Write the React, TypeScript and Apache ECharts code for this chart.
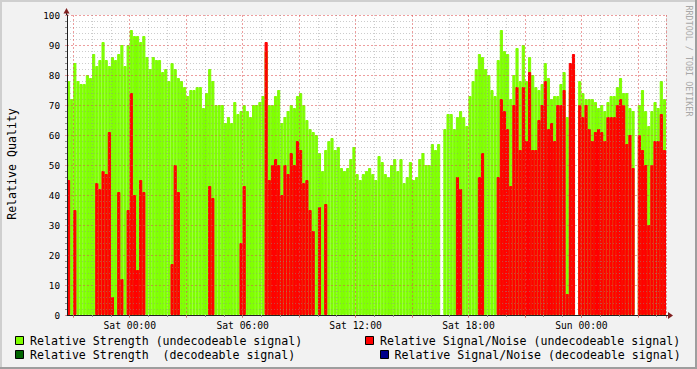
import React, { useEffect, useRef } from "react";
import * as echarts from "echarts";

// Time axis: 10-minute bins starting Fri 20:40
const START_MINUTE = 20 * 60 + 40;
const STEP_MINUTES = 10;
const DAY_NAMES = ["Fri", "Sat", "Sun"];

// Relative Strength (undecodeable signal)
const strengthUndecodeable: (number | null)[] = [
  78, 72, 84, 78, 77, 77, 80, 79, 87, 83,
  85, 91, 85, 83, 86, 85, 87, 90, 83, 90,
  95, 93, 93, 91, 93, 86, 82, 86, 85, 85,
  81, 82, 78, 84, 82, 79, 78, 76, 73, 75,
  75, 76, 76, 69, 74, 82, 78, 70, 70, 70,
  64, 66, 64, 71, 67, 68, 70, 68, 66, 70,
  70, 71, 73, 88, 70, 70, 73, 75, 64, 66,
  68, 70, 69, 73, 74, 70, 65, 62, 61, 60,
  54, 48, 55, 58, 59, 55, 56, 49, 48, 49,
  52, 56, 47, 45, 47, 48, 49, 47, 45, 53,
  51, 47, 46, 50, 52, 48, 52, 44, 46, 51,
  45, 46, 52, 54, 50, 50, 57, 55, 57, null,
  62, 67, 67, 62, 66, 68, 66, 63, 73, 78,
  82, 87, 86, 82, 80, 75, 73, 85, 95, 88,
  87, 72, 80, 89, 78, 90, 78, 86, 80, 76,
  75, 77, 84, 79, 72, 73, 73, 77, 81, 66,
  75, 84, null, 78, 74, 72, 72, 72, 71, 69,
  70, 68, 71, 73, 73, 76, 79, 74, 74, 69,
  68, null, 70, 75, 68, 63, 68, 71, 69, 78,
  72,
];

// Relative Signal/Noise (undecodeable signal)
const snrUndecodeable: (number | null)[] = [
  45, 0, 35, 0, 0, 0, 0, 0, 0, 44,
  42, 48, 47, 61, 6, 0, 41, 12, 0, 35,
  74, 40, 15, 45, 41, 0, 0, 0, 0, 0,
  0, 0, 0, 17, 50, 41, 0, 0, 0, 0,
  0, 0, 0, 0, 0, 43, 39, 0, 0, 0,
  0, 0, 0, 0, 0, 24, 43, 0, 0, 0,
  0, 0, 0, 91, 45, 50, 52, 50, 40, 50,
  47, 54, 50, 58, 55, 44, 45, 35, 28, 0,
  36, 0, 37, 0, 0, 0, 0, 0, 0, 0,
  0, 0, 0, 0, 0, 0, 0, 0, 0, 0,
  0, 0, 0, 0, 0, 0, 0, 0, 0, 0,
  0, 0, 0, 0, 0, 0, 0, 0, 0, null,
  0, 0, 0, 0, 46, 42, 0, 0, 0, 0,
  0, 46, 54, 0, 0, 0, 0, 46, 72, 68,
  62, 43, 70, 76, 55, 76, 58, 81, 55, 55,
  65, 70, 78, 62, 64, 58, 70, 70, 75, 7,
  84, 87, null, 70, 66, 70, 62, 58, 61, 62,
  61, 58, 66, 66, 66, 70, 72, 70, 57, 60,
  49, null, 60, 55, 50, 30, 50, 58, 58, 67,
  55,
];

// Decodeable signal series: no data visible in the period
const strengthDecodeable: number[] = [];
const snrDecodeable: number[] = [];

const xTickLabels = ["Sat 00:00", "Sat 06:00", "Sat 12:00", "Sat 18:00", "Sun 00:00"];
const Y_MIN = 0;
const Y_MAX = 100;
const Y_STEP = 10;

const SERIES_NAMES = [
  "Relative Strength (undecodeable signal)",
  "Relative Signal/Noise (undecodeable signal)",
  "Relative Strength  (decodeable signal)",
  "Relative Signal/Noise (decodeable signal)",
];
const SERIES_COLORS = ["#7FFF00", "#FF0000", "#006400", "#00008B"];

const pad = (n: number) => (n < 10 ? "0" + n : "" + n);
const minuteOf = (i: number) => START_MINUTE + STEP_MINUTES * i;
const categories = strengthUndecodeable.map((_, i) => {
  const m = minuteOf(i);
  const day = DAY_NAMES[Math.floor(m / 1440)];
  const hm = m % 1440;
  return `${day} ${pad(Math.floor(hm / 60))}:${pad(hm % 60)}`;
});

const GRID = { left: 67, top: 15, width: 599, height: 300 };
const MONO = '"DejaVu Sans Mono", monospace';
const GRID_COLOR = "rgba(143,143,143,0.45)";
const MGRID_COLOR = "rgba(222,79,79,0.55)";
const AXIS_COLOR = "#1F1F1F";
const ARROW_COLOR = "#801F1F";

export default function App() {
  const ref = useRef<HTMLDivElement>(null);

  useEffect(() => {
    if (!ref.current) return;
    const chart = echarts.init(ref.current, undefined, { renderer: "svg" });
    const bottom = GRID.top + GRID.height;
    const right = GRID.left + GRID.width;

    const isHour = (idx: number) => minuteOf(idx) % 60 === 0;
    const isThreeHour = (idx: number) => minuteOf(idx) % 180 === 0;

    const legendPos = [
      { sx: 15.5, sy: 336.5, tx: 30, ty: 341 },
      { sx: 365.5, sy: 336.5, tx: 380, ty: 341 },
      { sx: 15.5, sy: 350.5, tx: 30, ty: 355 },
      { sx: 380.5, sy: 350.5, tx: 394.5, ty: 355 },
    ];

    const legendGraphics: any[] = [];
    SERIES_NAMES.forEach((name, k) => {
      const p = legendPos[k];
      legendGraphics.push({
        type: "rect",
        shape: { x: p.sx, y: p.sy, width: 8, height: 8 },
        style: { fill: SERIES_COLORS[k], stroke: "#000", lineWidth: 1 },
        z: 10,
      });
      legendGraphics.push({
        type: "text",
        x: p.tx,
        y: p.ty,
        style: {
          text: name,
          fill: "#000",
          font: `11.6px ${MONO}`,
          align: "left",
          verticalAlign: "middle",
        },
        z: 10,
      });
    });

    const toBars = (arr: (number | null)[]) => arr.map((v) => (v === 0 ? null : v));

    const option: any = {
      animation: false,
      backgroundColor: "#F2F2F2",
      grid: {
        ...GRID,
        show: true,
        backgroundColor: "#FFFFFF",
        borderWidth: 0,
      },
      xAxis: [
        {
          type: "category",
          data: categories,
          boundaryGap: true,
          position: "bottom",
          z: 3,
          axisLine: { show: true, lineStyle: { color: AXIS_COLOR, width: 1 } },
          axisTick: {
            show: true,
            interval: (idx: number) => isHour(idx),
            length: 2,
            lineStyle: { color: "#8F8F8F" },
          },
          axisLabel: { show: false },
          splitLine: {
            show: true,
            interval: (idx: number) => isHour(idx) && !isThreeHour(idx),
            lineStyle: { color: GRID_COLOR, type: [1, 2], width: 1 },
          },
        },
        {
          type: "category",
          data: categories,
          boundaryGap: true,
          position: "bottom",
          z: 4,
          axisLine: { show: false },
          axisTick: {
            show: true,
            interval: (idx: number) => isThreeHour(idx),
            length: 3,
            lineStyle: { color: MGRID_COLOR },
          },
          axisLabel: {
            show: true,
            interval: (_idx: number, val: string) => xTickLabels.includes(val),
            formatter: (val: string) => val,
            fontFamily: MONO,
            fontSize: 9.7,
            color: "#000",
            margin: 5,
            padding: [0, 3, 0, 0],
          },
          splitLine: {
            show: true,
            interval: (idx: number) => isThreeHour(idx),
            lineStyle: { color: MGRID_COLOR, type: [2, 2], width: 1 },
          },
        },
      ],
      yAxis: {
        type: "value",
        min: Y_MIN,
        max: Y_MAX,
        interval: Y_STEP,
        z: 3,
        axisLine: { show: true, lineStyle: { color: AXIS_COLOR, width: 1 } },
        axisTick: { show: true, length: 2, lineStyle: { color: MGRID_COLOR } },
        minorTick: { show: true, splitNumber: 5, length: 2, lineStyle: { color: "#8F8F8F" } },
        axisLabel: {
          fontFamily: MONO,
          fontSize: 9.3,
          color: "#000",
          margin: 7,
        },
        splitLine: {
          show: true,
          lineStyle: { color: MGRID_COLOR, type: [2, 2], width: 1 },
        },
        minorSplitLine: {
          show: true,
          lineStyle: { color: GRID_COLOR, type: [1, 2], width: 1 },
        },
      },
      series: [
        { data: strengthUndecodeable },
        { data: snrUndecodeable },
        { data: strengthDecodeable },
        { data: snrDecodeable },
      ].map((s, k) => ({
        name: SERIES_NAMES[k],
        type: "bar",
        xAxisIndex: 0,
        data: toBars(s.data),
        barGap: "-100%",
        barCategoryGap: "0%",
        itemStyle: {
          color: SERIES_COLORS[k],
          borderColor: SERIES_COLORS[k],
          borderWidth: 1,
        },
        emphasis: { disabled: true },
        silent: true,
      })),
      graphic: [
        // frame shading
        { type: "rect", shape: { x: 0, y: 0, width: 697, height: 2 }, style: { fill: "#CFCFCF" }, z: 1 },
        { type: "rect", shape: { x: 0, y: 0, width: 2, height: 369 }, style: { fill: "#CFCFCF" }, z: 1 },
        { type: "rect", shape: { x: 0, y: 367, width: 697, height: 2 }, style: { fill: "#9E9E9E" }, z: 1 },
        { type: "rect", shape: { x: 695, y: 0, width: 2, height: 369 }, style: { fill: "#9E9E9E" }, z: 1 },
        // axis extensions and arrows
        {
          type: "line",
          shape: { x1: right, y1: bottom + 0.5, x2: right + 3, y2: bottom + 0.5 },
          style: { stroke: AXIS_COLOR, lineWidth: 1 },
          z: 10,
        },
        {
          type: "polygon",
          shape: { points: [[right + 2, bottom - 3], [right + 7, bottom + 0.5], [right + 2, bottom + 4]] },
          style: { fill: ARROW_COLOR },
          z: 10,
        },
        {
          type: "line",
          shape: { x1: GRID.left - 0.5, y1: GRID.top, x2: GRID.left - 0.5, y2: GRID.top - 3 },
          style: { stroke: AXIS_COLOR, lineWidth: 1 },
          z: 10,
        },
        {
          type: "polygon",
          shape: { points: [[GRID.left - 3.5, GRID.top - 1.5], [GRID.left - 0.5, GRID.top - 7], [GRID.left + 2.5, GRID.top - 1.5]] },
          style: { fill: ARROW_COLOR },
          z: 10,
        },
        // y-axis title
        {
          type: "text",
          x: 12,
          y: 164,
          rotation: Math.PI / 2,
          style: {
            text: "Relative Quality",
            fill: "#000",
            font: `11.6px ${MONO}`,
            align: "center",
            verticalAlign: "middle",
          },
          z: 10,
        },
        // watermark
        {
          type: "text",
          x: 689,
          y: 61,
          rotation: -Math.PI / 2,
          style: {
            text: "RRDTOOL / TOBI OETIKER",
            fill: "#A8A8A8",
            font: `8.4px ${MONO}`,
            align: "center",
            verticalAlign: "middle",
          },
          z: 10,
        },
        ...legendGraphics,
      ],
    };

    chart.setOption(option);
    return () => {
      chart.dispose();
    };
  }, []);

  return (
    <div
      ref={ref}
      style={{ position: "absolute", left: 0, top: 0, width: 697, height: 369 }}
    />
  );
}
